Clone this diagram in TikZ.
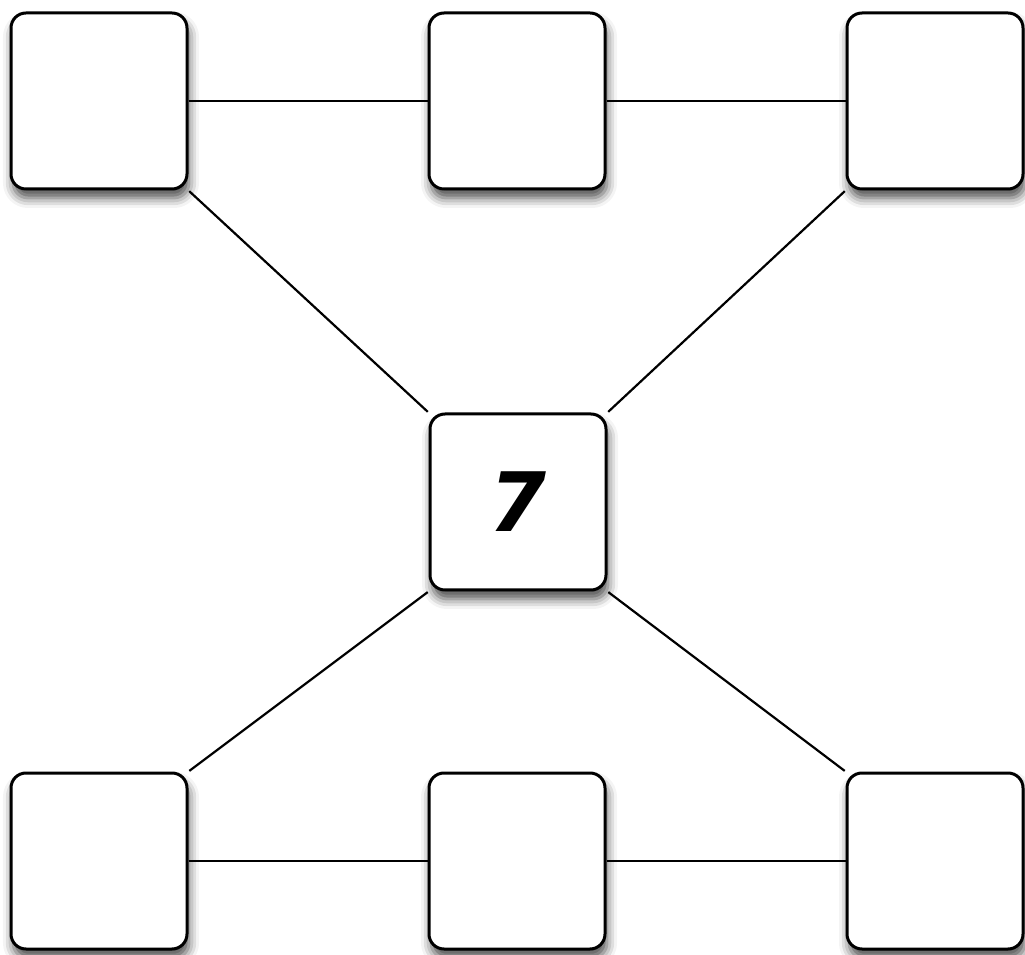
\documentclass[tikz,border=0pt]{standalone}
\usepackage{fontspec}
\usetikzlibrary{positioning,shadows.blur}
\newfontfamily\handfont{DejaVu Sans}
\tikzset{
 tile/.style={draw=black,fill=white,line width=3pt,rounded corners=15pt,minimum size=176pt,inner sep=0pt,
  blur shadow={shadow xshift=2pt,shadow yshift=-9pt,shadow blur radius=10pt,shadow opacity=70}},
 link/.style={line width=2.2pt,black}
}
\begin{document}
\begin{tikzpicture}[x=1pt,y=1pt]
\useasboundingbox (0,0) rectangle (1025,954);
% top row
\node[tile] (tl) at (99,853) {};
\node[tile,right=239pt of tl] (tm) {};
\node[tile,right=239pt of tm] (tr) {};
% middle
\node[tile] (mid) at (518,452) {\handfont\bfseries\itshape\fontsize{82}{82}\selectfont 7};
% bottom row
\node[tile] (bl) at (99,93) {};
\node[tile,right=239pt of bl] (bm) {};
\node[tile,right=239pt of bm] (br) {};
% links
\draw[link] (tl) -- (tm);
\draw[link] (tm) -- (tr);
\draw[link] (bl) -- (bm);
\draw[link] (bm) -- (br);
\draw[link,shorten <=1pt,shorten >=1pt] (tl.south east) -- (mid.north west);
\draw[link,shorten <=1pt,shorten >=1pt] (tr.south west) -- (mid.north east);
\draw[link,shorten <=1pt,shorten >=1pt] (mid.south west) -- (bl.north east);
\draw[link,shorten <=1pt,shorten >=1pt] (mid.south east) -- (br.north west);
\end{tikzpicture}
\end{document}
